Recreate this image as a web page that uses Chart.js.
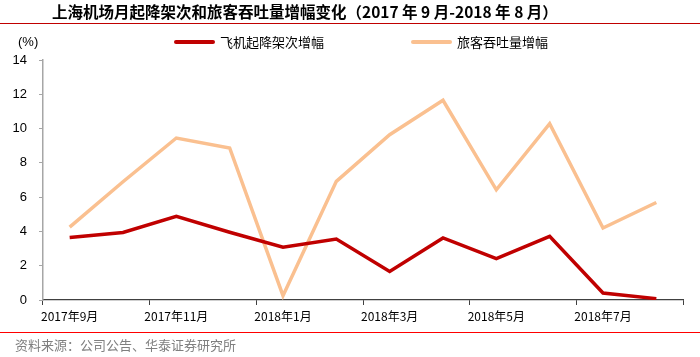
<!DOCTYPE html>
<html><head><meta charset="utf-8">
<script src="https://cdn.jsdelivr.net/npm/chart.js@4.4.1/dist/chart.umd.min.js"></script>
<style>html,body{margin:0;padding:0;background:#fff}#wrap{width:700px;height:357px;position:relative}</style>
</head><body><div id="wrap"><canvas id="c" width="700" height="357"></canvas></div>
<script>
const categories = ['2017年9月','2017年10月','2017年11月','2017年12月','2018年1月','2018年2月','2018年3月','2018年4月','2018年5月','2018年6月','2018年7月','2018年8月'];
const flightGrowth = [3.65, 3.94, 4.88, 3.95, 3.08, 3.56, 1.67, 3.62, 2.41, 3.71, 0.41, 0.08];
const passengerGrowth = [4.25, 6.9, 9.45, 8.87, 0.25, 6.92, 9.64, 11.65, 6.43, 10.29, 4.2, 5.69];
const yTicks = [0, 2, 4, 6, 8, 10, 12, 14];
const seriesNames = ['飞机起降架次增幅', '旅客吞吐量增幅'];
const titleText = '上海机场月起降架次和旅客吞吐量增幅变化（2017 年 9 月-2018 年 8 月）';
const sourceText = '资料来源：公司公告、华泰证券研究所';
const unitText = '(%)';

const CJK = '"Noto Sans CJK SC", sans-serif';
const LAT = '"Liberation Sans", Arial, sans-serif';

const decor = {
  id: 'decor',
  afterDraw(chart) {
    const ctx = chart.ctx;
    ctx.save();
    // title
    ctx.fillStyle = '#000';
    ctx.font = 'bold 15.5px ' + CJK;
    ctx.textBaseline = 'middle';
    ctx.textAlign = 'left';
    ctx.fillText(titleText, 52, 12.5);
    ctx.strokeStyle = '#C00000';
    ctx.lineWidth = 1;
    ctx.beginPath(); ctx.moveTo(0, 23.5); ctx.lineTo(700, 23.5); ctx.stroke();
    // bottom line
    ctx.strokeStyle = '#FF0000';
    ctx.beginPath(); ctx.moveTo(0, 332.5); ctx.lineTo(700, 332.5); ctx.stroke();
    // source
    ctx.fillStyle = '#7F7F7F';
    ctx.font = '13px ' + CJK;
    ctx.fillText(sourceText, 15, 345);
    // unit
    ctx.fillStyle = '#000';
    ctx.font = '13px ' + LAT;
    ctx.fillText(unitText, 18, 42);
    // legend
    const legendX = [176, 413];
    chart.data.datasets.forEach((ds, i) => {
      const x = legendX[i];
      ctx.strokeStyle = ds.borderColor;
      ctx.lineWidth = 4;
      ctx.lineCap = 'round';
      ctx.beginPath(); ctx.moveTo(x, 42); ctx.lineTo(x + 37, 42); ctx.stroke();
      ctx.fillStyle = '#000';
      ctx.font = '13px ' + CJK;
      ctx.fillText(ds.label, x + 44, 42);
    });
    ctx.restore();
  }
};

new Chart(document.getElementById('c'), {
  type: 'line',
  data: {
    labels: categories,
    datasets: [
      { label: seriesNames[0], data: flightGrowth, borderColor: '#C00000', borderWidth: 3.5, pointRadius: 0, tension: 0, order: 1 },
      { label: seriesNames[1], data: passengerGrowth, borderColor: '#FAC090', borderWidth: 3.5, pointRadius: 0, tension: 0, order: 2 }
    ]
  },
  options: {
    responsive: false,
    animation: false,
    devicePixelRatio: 1,
    layout: { padding: { top: 60, right: 17, bottom: 32, left: 0 } },
    plugins: { legend: { display: false }, title: { display: false }, tooltip: { enabled: false } },
    scales: {
      x: {
        type: 'category',
        offset: true,
        afterFit(s) { s.height = 25; },
        border: { display: true, color: '#404040', width: 1.2 },
        grid: {
          offset: true,
          drawOnChartArea: false,
          drawTicks: true,
          tickLength: 5,
          color: (c) => (c.index === undefined || c.index % 2 === 0) ? '#404040' : 'rgba(0,0,0,0)'
        },
        ticks: {
          autoSkip: false,
          maxRotation: 0,
          padding: 4,
          color: '#000',
          font: { family: CJK, size: 12 },
          callback: function(v, i) { return i % 2 === 0 ? this.getLabelForValue(v) : ''; }
        }
      },
      y: {
        min: 0, max: 14,
        afterFit(s) { s.width = 43; },
        afterBuildTicks(s) { s.ticks = yTicks.map(v => ({ value: v })); },
        border: { display: true, color: '#A6A6A6', width: 1.5 },
        grid: { drawOnChartArea: false, drawTicks: true, tickLength: 4, color: '#A6A6A6' },
        ticks: { padding: 12, color: '#000', font: { family: LAT, size: 13 } }
      }
    }
  },
  plugins: [decor]
});
</script></body></html>
